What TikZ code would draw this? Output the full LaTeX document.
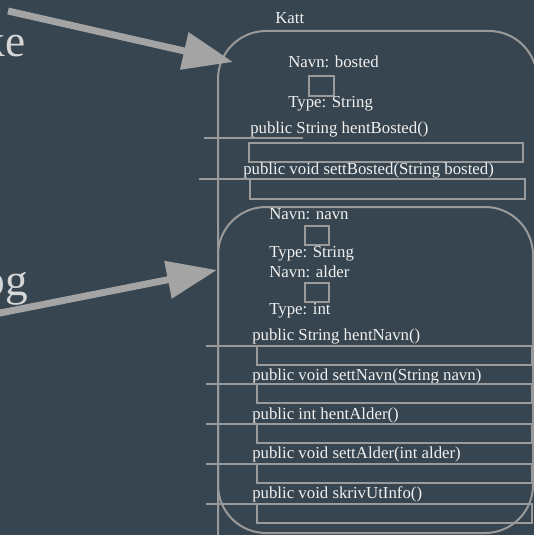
\documentclass[tikz,border=0pt]{standalone}
\usepackage{fontspec}
\setmainfont{Liberation Serif}
\usetikzlibrary{arrows.meta}
\definecolor{bg}{HTML}{36454F}
\definecolor{ink}{HTML}{F0F0F0}
\definecolor{bigink}{HTML}{D6D6D6}
\definecolor{rule}{HTML}{9A9A9A}
\definecolor{pointer}{HTML}{A4A4A4}
\begin{document}
\begin{tikzpicture}[x=0.75pt,y=-0.75pt,
  lbl/.style={anchor=base west,inner sep=0pt,text=ink,font=\fontsize{12.6}{14}\selectfont},
  big/.style={anchor=base east,inner sep=0pt,text=bigink,font=\fontsize{34}{36}\selectfont},
  frame/.style={draw=rule,line width=1.5pt,rounded corners=36pt},
  slot/.style={draw=rule,line width=1.5pt},
  tick/.style={draw=rule,line width=1.5pt},
  pointer arrow/.style={draw=pointer,line width=5.2pt,
    -{Triangle[length=37.5pt,width=27.5pt]}}]
\fill[bg] (0,0) rectangle (534,535);
\useasboundingbox (0,0) rectangle (534,535);
\clip (0,0) rectangle (534,535);

% partly hidden words on the left
\node[big] (w1) at (26,57) {ke};
\node[big] (w2) at (28,295) {og};

% class Katt
\node[lbl] (katt) at (275,24) {Katt};
\draw[frame] (218,31) rectangle (537,600);

% field bosted
\node[lbl] (f1n) at (288,68) {Navn: bosted};
\draw[slot] (309,76) rectangle (334,96);
\node[lbl] (f1t) at (288,107) {Type: String};

% methods for bosted
\node[lbl] (m1) at (250,133) {public String hentBosted()};
\draw[tick] (204,138) -- (303,138);
\draw[slot] (249,143) rectangle (523,162);
\node[lbl] (m2) at (243,174) {public void settBosted(String bosted)};
\draw[tick] (199,179) -- (298,179);
\draw[slot] (250,179) rectangle (525,199);

% inherited part
\draw[frame] (218,207) rectangle (533,533);
\node[lbl] (f2n) at (269,219) {Navn: navn};
\draw[slot] (305,226) rectangle (329,245);
\node[lbl] (f2t) at (269,257) {Type: String};
\node[lbl] (f3n) at (269,277) {Navn: alder};
\draw[slot] (305,283) rectangle (329,302);
\node[lbl] (f3t) at (269,314) {Type: int};

\node[lbl] (m3) at (252,340) {public String hentNavn()};
\draw[tick] (206,346) -- (257,346);
\draw[slot] (257,346) rectangle (532,365);
\node[lbl] (m4) at (252,380) {public void settNavn(String navn)};
\draw[tick] (206,384) -- (257,384);
\draw[slot] (257,384) rectangle (532,403);
\node[lbl] (m5) at (252,419) {public int hentAlder()};
\draw[tick] (206,424) -- (257,424);
\draw[slot] (257,424) rectangle (532,443);
\node[lbl] (m6) at (252,458) {public void settAlder(int alder)};
\draw[tick] (206,464) -- (257,464);
\draw[slot] (257,464) rectangle (532,483);
\node[lbl] (m7) at (252,498) {public void skrivUtInfo()};
\draw[tick] (206,504) -- (257,504);
\draw[slot] (257,504) rectangle (532,523);

% pointers
\coordinate (p1s) at (8,11);
\coordinate (p1e) at (233,62);
\coordinate (p2s) at (-10,315);
\coordinate (p2e) at (217,270);
\draw[pointer arrow] (p1s) -- (p1e);
\draw[pointer arrow] (p2s) -- (p2e);
\end{tikzpicture}
\end{document}
